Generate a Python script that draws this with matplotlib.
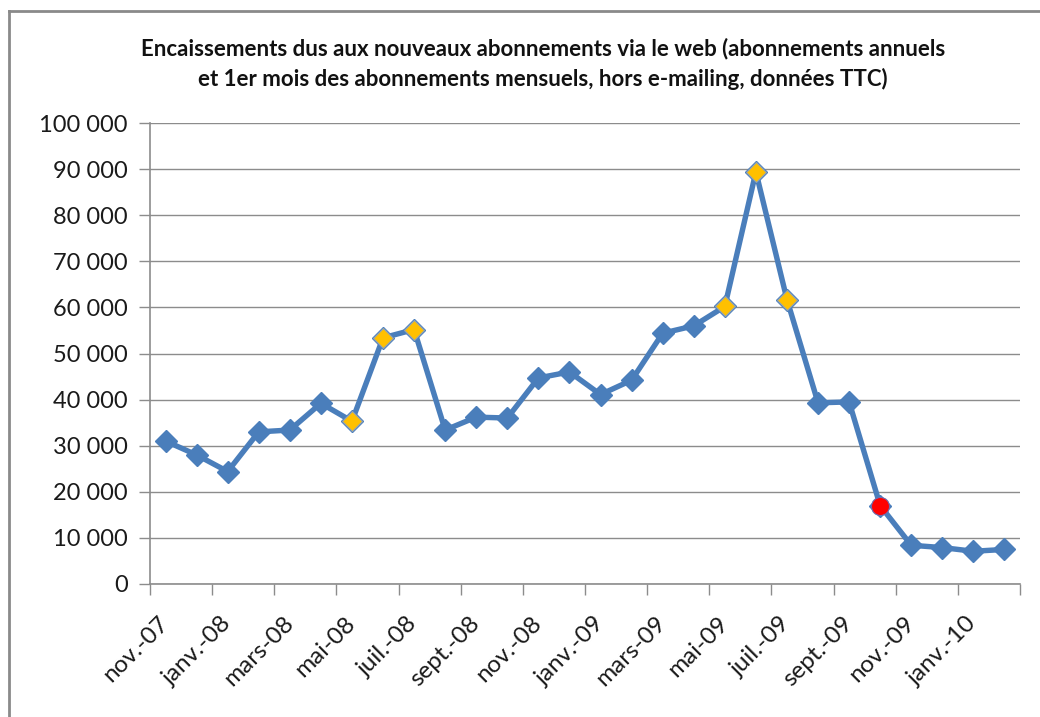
import matplotlib
matplotlib.use('Agg')
import matplotlib.pyplot as plt
from matplotlib.lines import Line2D
from matplotlib.ticker import FuncFormatter

plt.rcParams['font.family'] = ['Lato', 'DejaVu Sans']

# Données (encaissements mensuels, TTC)
months = ['nov.-07', 'déc.-07', 'janv.-08', 'févr.-08', 'mars-08', 'avr.-08', 'mai-08', 'juin-08',
          'juil.-08', 'août-08', 'sept.-08', 'oct.-08', 'nov.-08', 'déc.-08', 'janv.-09', 'févr.-09',
          'mars-09', 'avr.-09', 'mai-09', 'juin-09', 'juil.-09', 'août-09', 'sept.-09', 'oct.-09',
          'nov.-09', 'déc.-09', 'janv.-10', 'févr.-10']
values = [31000, 28000, 24400, 33000, 33400, 39200, 35300, 53400,
          55200, 33400, 36200, 36000, 44700, 46000, 41100, 44200,
          54400, 56000, 60200, 89400, 61700, 39300, 39500, 17000,
          8400, 7900, 7100, 7500]
yellow_idx = [6, 7, 8, 18, 19, 20]
red_idx = [23]

x = list(range(len(values)))

fig = plt.figure(figsize=(10.4, 7.17), dpi=100)
ax = fig.add_axes([150 / 1040, 1 - 584 / 717, 870 / 1040, 461 / 717])

blue = '#4a7ebb'
ax.plot(x, values, color=blue, lw=3.9, marker='D', markersize=11.5,
        markerfacecolor=blue, markeredgecolor=blue, zorder=3)
ax.plot([x[i] for i in yellow_idx], [values[i] for i in yellow_idx], ls='none',
        marker='D', markersize=10.5, markerfacecolor='#ffc000', markeredgecolor='#8fa2b8',
        markeredgewidth=0.8, zorder=4)
ax.plot([x[i] for i in red_idx], [values[i] for i in red_idx], ls='none',
        marker='o', markersize=13, markerfacecolor='#ff0000', markeredgecolor='#6f6fb0',
        markeredgewidth=0.8, zorder=4)

ax.set_xlim(-0.5, len(values) - 0.5)
ax.set_ylim(0, 100000)
ax.set_yticks(range(0, 100001, 10000))
ax.yaxis.set_major_formatter(FuncFormatter(lambda v, p: f'{int(v):,}'.replace(',', ' ')))
ax.yaxis.grid(True, color='#8c8c8c', lw=1.0)
ax.set_axisbelow(True)

# étiquettes tous les deux mois, graduations entre les catégories
ax.set_xticks(x[::2])
ax.set_xticklabels(months[::2], rotation=45, ha='right', va='center', rotation_mode='anchor')
ax.set_xticks([i - 0.5 for i in range(0, len(values) + 1, 2)], minor=True)
ax.tick_params(axis='x', which='major', length=0, pad=26, labelsize=17.5, labelcolor='#1a1a1a')
ax.tick_params(axis='x', which='minor', length=8, width=1, color='#8c8c8c', direction='out')
ax.tick_params(axis='y', length=8, width=1, color='#8c8c8c', pad=8, labelsize=17, labelcolor='#1a1a1a')

for s in ['top', 'right']:
    ax.spines[s].set_visible(False)
for s in ['left', 'bottom']:
    ax.spines[s].set_color('#8c8c8c')
    ax.spines[s].set_linewidth(1.2)

fig.text(0.522, 1 - 64 / 717,
         'Encaissements dus aux nouveaux abonnements via le web (abonnements annuels\n'
         'et 1er mois des abonnements mensuels, hors e-mailing, données TTC)',
         ha='center', va='center', fontsize=16, fontweight='bold', linespacing=1.5,
         color='#111111')

# cadre du graphique
fig.add_artist(Line2D([9 / 1040, 1], [1 - 11 / 717] * 2, transform=fig.transFigure,
                      color='#8a8a8a', lw=2))
fig.add_artist(Line2D([9 / 1040] * 2, [0, 1 - 11 / 717], transform=fig.transFigure,
                      color='#8a8a8a', lw=2))

fig.savefig('out.png', dpi=100)
